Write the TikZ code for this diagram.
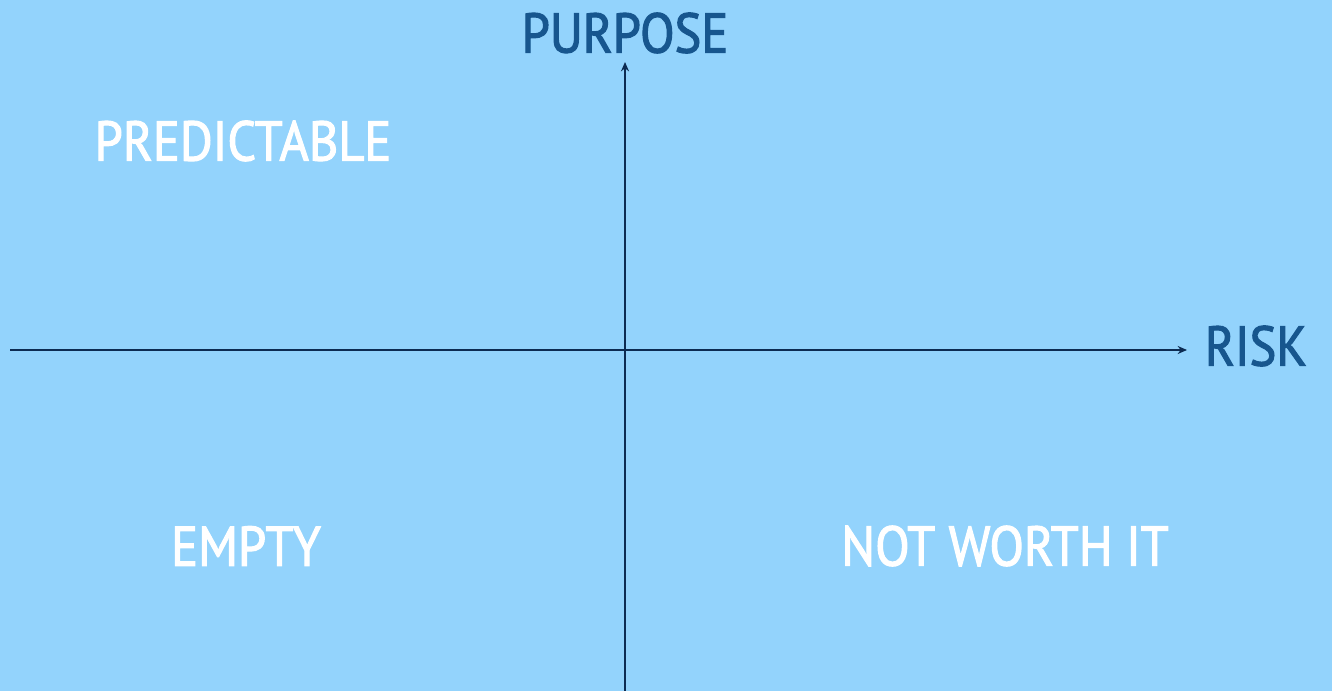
\documentclass[tikz,border=0pt]{standalone}
\usepackage{fontspec}
\setmainfont{PT Sans}[FakeStretch=0.9, FakeBold=2]
\usetikzlibrary{arrows.meta}
\definecolor{skyback}{HTML}{93D3FC}
\definecolor{axisblue}{HTML}{0C2B52}
\definecolor{titleblue}{HTML}{17568E}
\tikzset{
  axis/.style    = {draw=axisblue, line width=1.2pt, -{Stealth[length=7pt,width=6pt]}},
  axislabel/.style = {text=titleblue, font=\fontsize{42}{48}\selectfont, inner sep=0pt},
  quadrant/.style  = {text=white, font=\fontsize{42}{48}\selectfont, inner sep=0pt}
}
\begin{document}
\begin{tikzpicture}[x=0.75pt,y=-0.75pt]
  \fill[skyback] (0,0) rectangle (1332,691);
  \useasboundingbox (0,0) rectangle (1332,691);

  % axes
  \coordinate (xstart) at (10,350);
  \coordinate (xend) at (1187,350);
  \coordinate (ystart) at (625,691);
  \coordinate (yend) at (625,62);
  \draw[axis] (xstart) -- (xend);
  \draw[axis] (ystart) -- (yend);

  \node[axislabel] (purpose) at (625,33) {PURPOSE};
  \node[axislabel] (risk) at (1256,346) {RISK};

  % quadrants
  \node[quadrant] (predictable) at (243,141) {PREDICTABLE};
  \node[quadrant] (empty) at (246,546) {EMPTY};
  \node[quadrant] (notworth) at (1005,546) {NOT WORTH IT};
\end{tikzpicture}
\end{document}
